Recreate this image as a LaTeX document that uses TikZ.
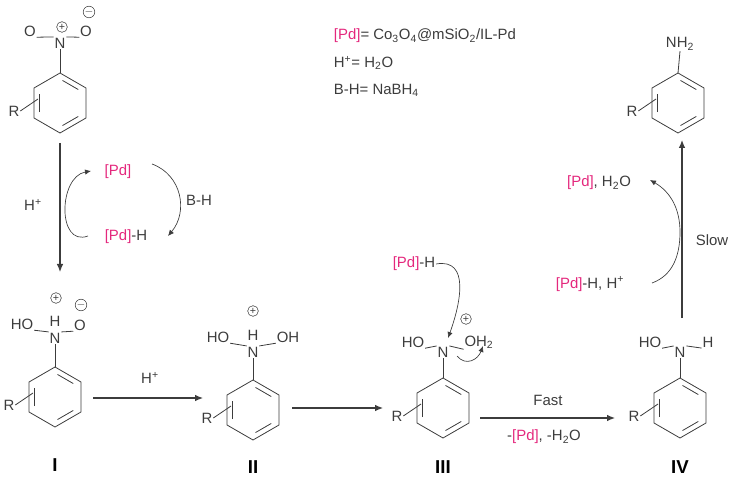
\documentclass[tikz,border=0pt]{standalone}
\usepackage{fontspec}
\setmainfont{Liberation Sans}
\usetikzlibrary{arrows.meta,calc}
\definecolor{pd}{RGB}{228,40,125}
\definecolor{ink}{RGB}{60,60,60}
\newcommand\pd{\textcolor{pd}{[Pd]}}
\newcommand\subs[1]{\textsubscript{#1}}
\newcommand\hplus{H\textsuperscript{+}}
\newcommand\dbl[3]{\draw[bond] ($($(#1)!0.8!(#2)$)!0.12!($(#1)!0.8!(#3)$)$)--($($(#1)!0.8!(#3)$)!0.12!($(#1)!0.8!(#2)$)$);}
\newcommand\ringat[3]{% name, cx, cy
  \coordinate (#1c) at (#2,#3);
  \foreach \a/\k in {90/1,30/2,-30/3,-90/4,-150/5,150/6}{\coordinate (#1v\k) at ($(#2,#3)+({cos(\a)*30},{-sin(\a)*30})$);}
  \draw[bond] (#1v1)--(#1v2)--(#1v3)--(#1v4)--(#1v5)--(#1v6)--cycle;
  \dbl{#1c}{#1v1}{#1v2}\dbl{#1c}{#1v3}{#1v4}\dbl{#1c}{#1v5}{#1v6}
  \node[txt] (#1R) at (#2-46,#3+8) {R};
  \draw[bond] (#1R.east)--($(#1v5)!0.6!(#1v6)+(4,-1)$);
}
\begin{document}
\begin{tikzpicture}[x=0.75pt,y=-0.75pt,
  txt/.style={inner sep=0.5pt,font=\fontsize{11.2}{13}\selectfont,text=ink},
  chg/.style={circle,draw=ink,inner sep=0pt,minimum size=8pt,font=\fontsize{8}{8}\selectfont,text=ink},
  bond/.style={draw=ink,line width=0.6pt},
  arr/.style={draw=ink,line width=0.9pt,-{Latex[length=6pt,width=5pt]}},
  carr/.style={draw=ink,line width=0.5pt,-{Latex[length=4.5pt,width=4pt]}},
  lbl/.style={font=\fontsize{14}{15}\selectfont\bfseries,text=black}]
\useasboundingbox (0,0) rectangle (734,484);
% legend
\node[txt,anchor=west] (leg1) at (333,36) {\pd= Co\subs{3}O\subs{4}@mSiO\subs{2}/IL-Pd};
\node[txt,anchor=west] (leg2) at (333,63) {\hplus= H\subs{2}O};
\node[txt,anchor=west] (leg3) at (333,90) {B-H= NaBH\subs{4}};
% nitro
\ringat{a}{60}{103}
\node[txt] (aN) at (60,43) {N};
\node[txt] (aO1) at (30,31) {O};
\node[txt] (aO2) at (86,31) {O};
\node[chg] (ap) at (62,27) {+};
\node[chg] (am) at (89,12) {$-$};
\draw[bond] (av1)--(aN.south);
\draw[bond] (aO1.south east)--(aN.north west);
\draw[bond] (aO2.south west)--(aN.north east);
% down arrow
\coordinate (s1) at (60,143);
\coordinate (s2) at (60,272);
\draw[arr] (s1)--(s2);
\node[txt] (hp1) at (33,205) {\hplus};
\node[txt] (pd1) at (118,172) {\pd};
\node[txt] (pd2) at (126,237) {\pd-H};
\node[txt] (bh) at (199,200) {B-H};
\draw[carr] (88,236) to[out=200,in=190,looseness=1.3] (91,171);
\draw[carr] (152,164) to[out=-20,in=50,looseness=1.1] (168,236);
% I
\ringat{b}{55}{397}
\node[txt] (bN) at (55,338) {N};
\node[txt] (bH) at (55,321) {H};
\node[txt] (bHO) at (22,324) {HO};
\node[txt] (bO) at (80,325) {O};
\node[chg] (bp) at (56,298) {+};
\node[chg] (bm) at (81,305) {$-$};
\draw[bond] (bv1)--(bN.south);
\draw[bond] (bHO.south east)--(bN.north west);
\draw[bond] (bO.south west)--(bN.north east);
\node[lbl] (lI) at (55,465) {I};
\coordinate (t1) at (93,398); \coordinate (t2) at (203,398);
\draw[arr] (t1)--(t2);
\node[txt] (hp2) at (150,378) {\hplus};
% II
\ringat{c}{253}{410}
\node[txt] (cN) at (253,352) {N};
\node[txt] (cH) at (253,335) {H};
\node[txt] (cHO) at (218,337) {HO};
\node[txt] (cOH) at (288,337) {OH};
\node[chg] (cp) at (253,311) {+};
\draw[bond] (cv1)--(cN.south);
\draw[bond] (cHO.south east)--(cN.north west);
\draw[bond] (cOH.south west)--(cN.north east);
\node[lbl] (lII) at (253,467) {II};
\coordinate (u1) at (292,408); \coordinate (u2) at (383,408);
\draw[arr] (u1)--(u2);
% III
\ringat{d}{443}{408}
\node[txt] (dN) at (443,352) {N};
\node[txt] (dHO) at (413,342) {HO};
\node[txt] (dO) at (479,342) {OH\subs{2}};
\node[chg] (dp) at (466,319) {+};
\node[txt] (dpd) at (414,264) {\pd-H};
\draw[bond] (dv1)--(dN.south);
\draw[bond] (dHO.south east)--(dN.north west);
\draw[bond] (dO.south west)--(dN.north east);
\draw[carr] (dpd.east) to[out=10,in=70,looseness=1.2] (448,338);
\draw[carr] (457,356) to[out=-50,in=-110,looseness=1.3] (483,346);
\node[lbl] (lIII) at (443,467) {III};
\coordinate (w1) at (480,418); \coordinate (w2) at (615,418);
\draw[arr] (w1)--(w2);
\node[txt] (fast) at (548,400) {Fast};
\node[txt] (mpd) at (544,437) {-\pd, -H\subs{2}O};
% IV
\ringat{e}{680}{408}
\node[txt] (eN) at (680,352) {N};
\node[txt] (eHO) at (650,342) {HO};
\node[txt] (eH) at (708,342) {H};
\draw[bond] (ev1)--(eN.south);
\draw[bond] (eHO.south east)--(eN.north west);
\draw[bond] (eH.south west)--(eN.north east);
\node[lbl] (lIV) at (680,467) {IV};
\coordinate (h1) at (682,318); \coordinate (h2) at (682,140);
\draw[arr] (h1)--(h2);
\node[txt] (slow) at (712,240) {Slow};
\node[txt] (pdh) at (590,284) {\pd-H, \hplus};
\node[txt] (pdw) at (599,183) {\pd, H\subs{2}O};
\draw[carr] (652,283) to[out=20,in=-90] (680,232) to[out=90,in=-30] (650,180);
% aniline
\ringat{k}{678}{103}
\node[txt] (kN) at (680,44) {NH\subs{2}};
\draw[bond] (kv1)--(kN.south);
\end{tikzpicture}
\end{document}
